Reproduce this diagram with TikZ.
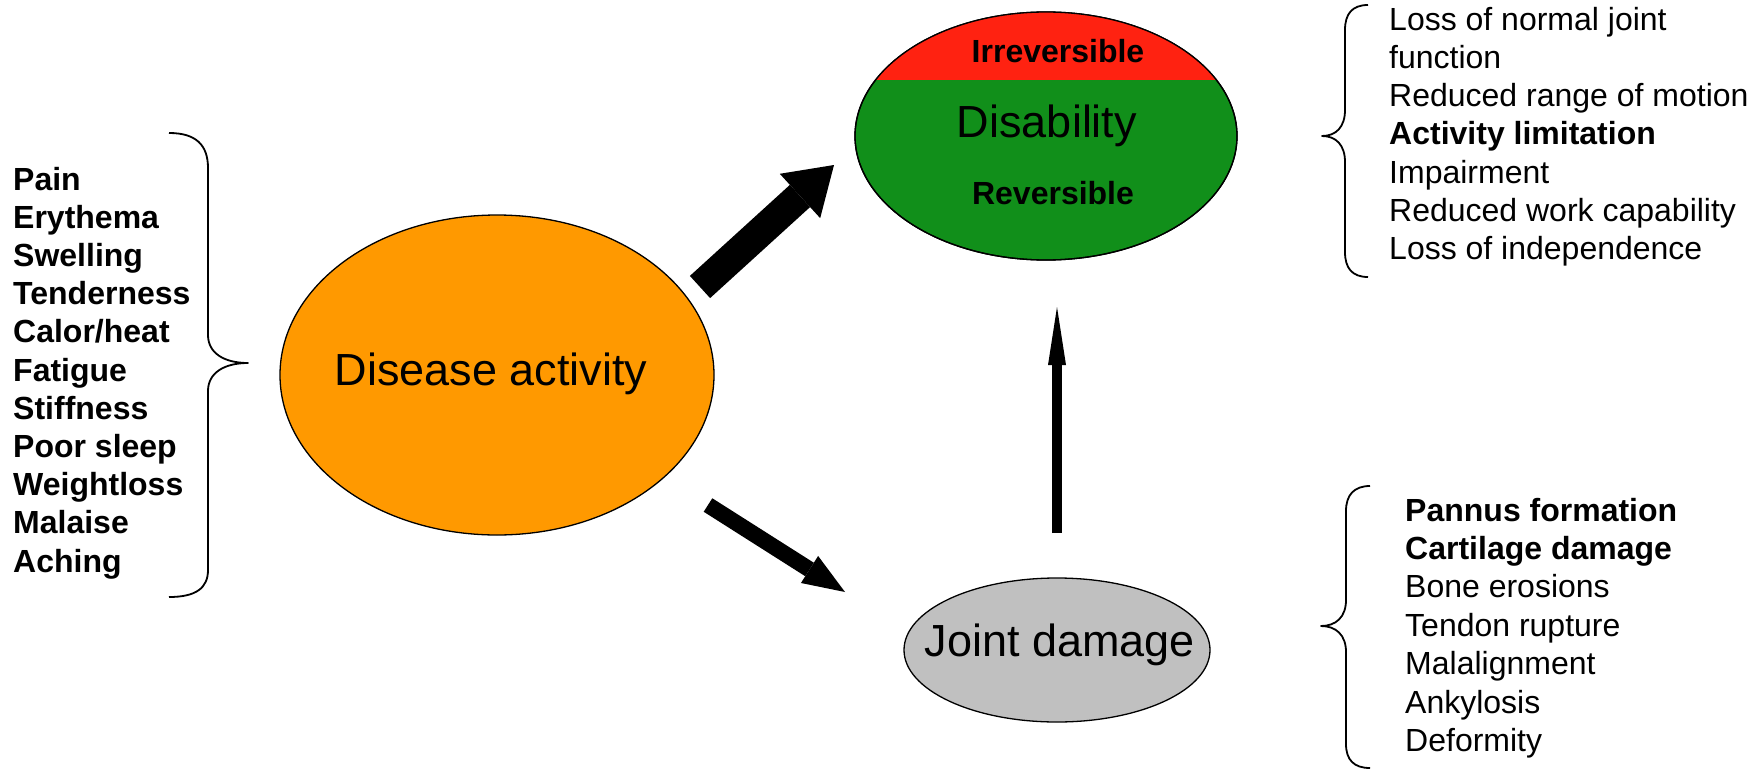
\documentclass[tikz,border=0pt]{standalone}
\usepackage{fontspec}
\setmainfont{Liberation Sans}
\usetikzlibrary{arrows.meta,shapes.geometric}
\definecolor{orng}{HTML}{FF9900}
\definecolor{grn}{HTML}{118F1A}
\definecolor{rd}{HTML}{FF2211}
\definecolor{gry}{HTML}{C0C0C0}
\begin{document}
\begin{tikzpicture}[x=1pt,y=-1pt,
  ell/.style={ellipse,draw=black,line width=1.3pt,inner sep=0pt},
  big/.style={font=\fontsize{45}{54}\selectfont,inner sep=0pt},
  item/.style={font=\fontsize{32}{38}\selectfont,inner sep=0pt,anchor=base west},
  bolditem/.style={item,font=\fontsize{32}{38}\selectfont\bfseries},
  bracepath/.style={line width=1.8pt,line join=round},
  fatarrow/.style={line width=#1,draw=black}]
\useasboundingbox (0,0) rectangle (1764,771);

% ellipses
\node[ell,fill=orng,minimum width=434pt,minimum height=320pt] (dis) at (497,375) {};
\node[ell,fill=gry,minimum width=306pt,minimum height=144pt] (jd) at (1057,650) {};
\node[ell,fill=grn,minimum width=382pt,minimum height=248pt] (disab) at (1046,136) {};
\begin{scope}
  \clip (1046,136) ellipse [x radius=191pt, y radius=124pt];
  \fill[rd] (850,0) rectangle (1245,80);
\end{scope}
\draw[line width=1.3pt] (1046,136) ellipse [x radius=191pt, y radius=124pt];

% labels in ellipses
\node[big,anchor=base] (tdis) at (491,385) {Disease activity};
\node[big,anchor=base] (tdisab) at (1047,137) {Disability};
\node[big,anchor=base] (tjd) at (1060,656) {Joint damage};
\node[bolditem,anchor=base] (tirr) at (1058,62) {Irreversible};
\node[bolditem,anchor=base] (trev) at (1053,204) {Reversible};

% arrows
\coordinate (a1s) at (700,287); \coordinate (a1e) at (834,165);
\coordinate (a2s) at (708,505); \coordinate (a2e) at (845,592);
\coordinate (a3s) at (1057,533); \coordinate (a3e) at (1057,307);
\draw[fatarrow=30pt,-{Triangle[width=60pt,length=46pt,line width=0pt]}] (a1s) -- (a1e);
\draw[fatarrow=16pt,-{Triangle[width=32pt,length=42pt,line width=0pt]}] (a2s) -- (a2e);
\draw[fatarrow=9.5pt,-{Triangle[width=18pt,length=58pt,line width=0pt]}] (a3s) -- (a3e);

% braces
\draw[bracepath] (169,133) .. controls (196,133) and (208,145) .. (208,168)
  -- (208,335) .. controls (208,353) and (224,363) .. (248,363)
  .. controls (224,363) and (208,373) .. (208,391)
  -- (208,570) .. controls (208,588) and (196,597) .. (169,597);
\draw[bracepath] (1368,5) .. controls (1352,5) and (1345,14) .. (1345,30)
  -- (1345,110) .. controls (1345,127) and (1336,136) .. (1322,136)
  .. controls (1336,136) and (1345,145) .. (1345,162)
  -- (1345,252) .. controls (1345,268) and (1352,277) .. (1368,277);
\draw[bracepath] (1370,486) .. controls (1354,486) and (1346,495) .. (1346,511)
  -- (1346,600) .. controls (1346,617) and (1336,626) .. (1321,626)
  .. controls (1336,626) and (1346,635) .. (1346,652)
  -- (1346,744) .. controls (1346,760) and (1354,768) .. (1370,768);

% left list
\foreach \t [count=\i from 0] in {Pain,Erythema,Swelling,Tenderness,Calor/heat,Fatigue,Stiffness,Poor sleep,Weightloss,Malaise,Aching}
  \node[bolditem] (L\i) at (13,190+38.2*\i) {\t};

% right top list
\foreach \t [count=\i from 0] in {Loss of normal joint,function,Reduced range of motion,{\bfseries Activity limitation},Impairment,Reduced work capability,Loss of independence}
  \node[item] (R\i) at (1389,30+38.3*\i) {\t};

% right bottom list
\foreach \t [count=\i from 0] in {{\bfseries Pannus formation},{\bfseries Cartilage damage},Bone erosions,Tendon rupture,Malalignment,Ankylosis,Deformity}
  \node[item] (B\i) at (1405,521+38.4*\i) {\t};
\end{tikzpicture}
\end{document}
